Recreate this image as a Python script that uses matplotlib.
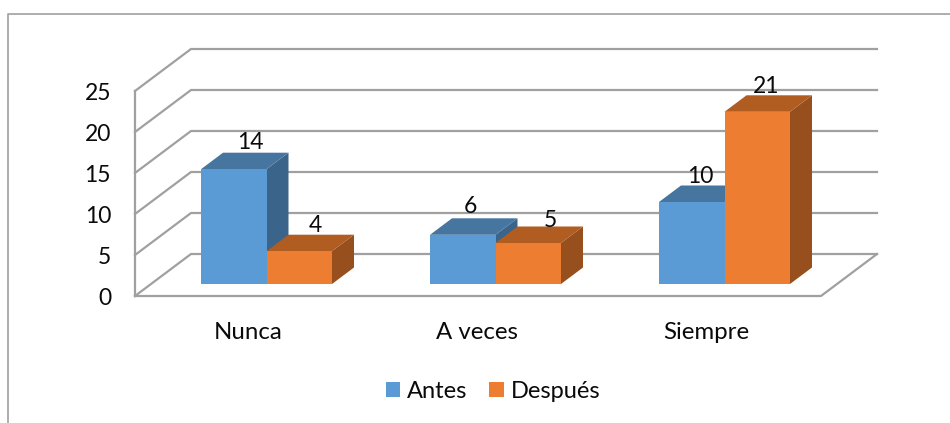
import matplotlib
matplotlib.use("Agg")
import matplotlib.pyplot as plt
from matplotlib.patches import Polygon

categories = ["Nunca", "A veces", "Siempre"]
antes = [14, 6, 10]
despues = [4, 5, 21]
y_ticks = [0, 5, 10, 15, 20, 25]

plt.rcParams['font.family'] = ['Lato', 'DejaVu Sans']

W, H = 950, 423
PX_X = 229.0   # pixeles por categoria
PX_Y = 8.2     # pixeles por unidad
X0_PX, Y0_PX = 266.5, 296.0

# profundidad de la caja 3D en unidades de datos
DX = 56 / PX_X
DY = 42 / PX_Y
X_LEFT = (135 - X0_PX) / PX_X
X_RIGHT = (821 - X0_PX) / PX_X
BAR_W = 65.5 / PX_X
D_FRONT = 12 / 42
D_BACK = 28.5 / 42

BLUE = ("#5B9BD5", "#4675A0", "#3A6489")
ORANGE = ("#ED7D31", "#B15C21", "#974F1D")
GRID = "#A0A0A0"
TEXT = "#0A0A0A"
FS = 16.5

# ajuste de las etiquetas respecto a la barra, en pixeles (x, y)
nudge_a = [(-5, 10), (-14, 12), (-13, 9)]
nudge_d = [(-6, 9), (0, 6), (-13, 9)]


def proj(x, v, d):
    return x + d * DX, v + d * DY


def draw_bar(ax, x, value, cols, z):
    front, top, side = cols
    l, r = x, x + BAR_W
    pts_front = [proj(l, 0, D_FRONT), proj(r, 0, D_FRONT), proj(r, value, D_FRONT), proj(l, value, D_FRONT)]
    pts_top = [proj(l, value, D_FRONT), proj(r, value, D_FRONT), proj(r, value, D_BACK), proj(l, value, D_BACK)]
    pts_side = [proj(r, 0, D_FRONT), proj(r, 0, D_BACK), proj(r, value, D_BACK), proj(r, value, D_FRONT)]
    ax.add_patch(Polygon(pts_side, fc=side, ec="none", zorder=z))
    ax.add_patch(Polygon(pts_top, fc=top, ec="none", zorder=z))
    ax.add_patch(Polygon(pts_front, fc=front, ec="none", zorder=z + 0.1))
    return proj(x + BAR_W / 2, value, D_BACK)


fig = plt.figure(figsize=(W / 100, H / 100), dpi=100)
ax = fig.add_axes([0, 0, 1, 1])
ax.set_xlim((0 - X0_PX) / PX_X, (W - X0_PX) / PX_X)
ax.set_ylim((Y0_PX - H) / PX_Y, Y0_PX / PX_Y)
ax.axis("off")

# marco exterior, solo izquierda y arriba
frame_x = [(7.5 - X0_PX) / PX_X, (7.5 - X0_PX) / PX_X, (W - X0_PX) / PX_X]
frame_y = [(Y0_PX - H) / PX_Y, (Y0_PX - 14) / PX_Y, (Y0_PX - 14) / PX_Y]
ax.plot(frame_x, frame_y, color="#A0A0A0", lw=1.2, zorder=1)

# rejilla de las paredes
for t in y_ticks:
    xs = [X_LEFT, proj(X_LEFT, t, 1)[0], proj(X_RIGHT, t, 1)[0]]
    ys = [t, t + DY, t + DY]
    ax.plot(xs, ys, color=GRID, lw=1.6, zorder=2, solid_joinstyle="miter")
    ax.text(X_LEFT - 24 / PX_X, t - 2.5 / PX_Y, str(t), ha="right", va="center", fontsize=FS, color=TEXT)
ax.plot([X_LEFT, X_LEFT], [0, y_ticks[-1]], color=GRID, lw=1.6, zorder=2)
# suelo
fx = [X_LEFT, X_RIGHT, proj(X_RIGHT, 0, 1)[0]]
fy = [0, 0, DY]
ax.plot(fx, fy, color=GRID, lw=1.6, zorder=2)

# barras, la serie de atras primero
n = 0
for i, name in enumerate(categories):
    z = 3 + n
    x_a = i - BAR_W - D_FRONT * DX
    x_d = i - D_FRONT * DX
    top_a = draw_bar(ax, x_a, antes[i], BLUE, z)
    top_d = draw_bar(ax, x_d, despues[i], ORANGE, z + 1)
    ax.text(top_a[0] + nudge_a[i][0] / PX_X, top_a[1] + nudge_a[i][1] / PX_Y, str(antes[i]),
            ha="center", va="center", fontsize=FS, color=TEXT, zorder=10)
    ax.text(top_d[0] + nudge_d[i][0] / PX_X, top_d[1] + nudge_d[i][1] / PX_Y, str(despues[i]),
            ha="center", va="center", fontsize=FS, color=TEXT, zorder=10)
    ax.text(i - 18 / PX_X, -4.5, name, ha="center", va="center", fontsize=17.3, color=TEXT)
    n += 2

# leyenda
h_a = plt.Rectangle((0, 0), 1, 1, fc=BLUE[0])
h_d = plt.Rectangle((0, 0), 1, 1, fc=ORANGE[0])
ax.legend([h_a, h_d], ["Antes", "Después"], loc="center", bbox_to_anchor=(493 / W, 1 - 391 / H),
          ncol=2, frameon=False, fontsize=17, handlelength=0.62, handleheight=0.62,
          handletextpad=0.3, columnspacing=0.9, labelcolor=TEXT)

fig.savefig("out.png", dpi=100)
